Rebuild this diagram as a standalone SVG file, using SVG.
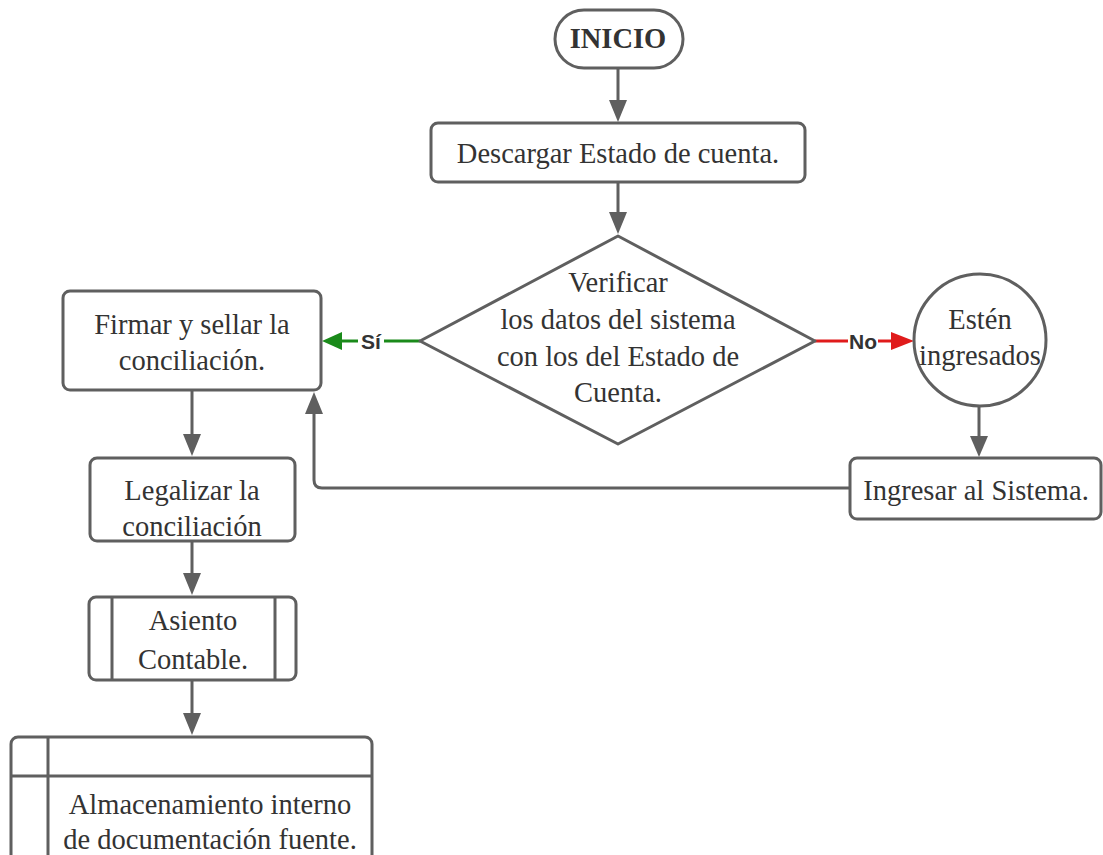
<svg xmlns="http://www.w3.org/2000/svg" width="1103" height="855" viewBox="0 0 1103 855">
  <style>
    .shape { fill: #ffffff; stroke: #5f5f5f; stroke-width: 3; }
    .line { fill: none; stroke: #5f5f5f; stroke-width: 3; }
    .txt { font-family: "Liberation Serif", "DejaVu Serif", serif; font-size: 28.5px; fill: #333333; text-anchor: middle; }
    .bold { font-weight: bold; }
    .lbl { font-family: "Liberation Sans", Arial, sans-serif; font-size: 21px; font-weight: bold; fill: #333333; text-anchor: middle; }
  </style>
  <rect width="1103" height="855" fill="#ffffff"/>

  <g id="connectors">
    <!-- INICIO to Descargar -->
    <line class="line" x1="618" y1="68" x2="618" y2="104"/>
    <path d="M609,100 L627,100 L618,122 z" fill="#5f5f5f"/>
    <!-- Descargar to decision -->
    <line class="line" x1="618" y1="182" x2="618" y2="216"/>
    <path d="M609,212 L627,212 L618,234 z" fill="#5f5f5f"/>
    <!-- Si branch -->
    <line x1="420" y1="341" x2="384" y2="341" stroke="#1a8a1a" stroke-width="3"/>
    <line x1="358" y1="341" x2="338" y2="341" stroke="#1a8a1a" stroke-width="3"/>
    <path d="M342,332 L342,350 L322,341 z" fill="#1a8a1a"/>
    <text class="lbl" x="371" y="349">Sí</text>
    <!-- No branch -->
    <line x1="815" y1="341" x2="848" y2="341" stroke="#e01b1b" stroke-width="3"/>
    <line x1="878" y1="341" x2="894" y2="341" stroke="#e01b1b" stroke-width="3"/>
    <path d="M891,332 L891,350 L914,341 z" fill="#e01b1b"/>
    <text class="lbl" x="863" y="349">No</text>
    <!-- circle to Ingresar -->
    <line class="line" x1="979" y1="406" x2="979" y2="440"/>
    <path d="M970,436 L988,436 L979,457 z" fill="#5f5f5f"/>
    <!-- Ingresar back to Firmar -->
    <path class="line" d="M850,488 L322,488 Q314,488 314,480 L314,412"/>
    <path d="M305,414 L323,414 L314,392 z" fill="#5f5f5f"/>
    <!-- Firmar to Legalizar -->
    <line class="line" x1="192" y1="390" x2="192" y2="438"/>
    <path d="M183,434 L201,434 L192,456 z" fill="#5f5f5f"/>
    <!-- Legalizar to Asiento -->
    <line class="line" x1="192" y1="541" x2="192" y2="577"/>
    <path d="M183,573 L201,573 L192,595 z" fill="#5f5f5f"/>
    <!-- Asiento to Almacenamiento -->
    <line class="line" x1="192" y1="680" x2="192" y2="717"/>
    <path d="M183,713 L201,713 L192,735 z" fill="#5f5f5f"/>
  </g>

  <g id="inicio">
    <rect class="shape" x="555" y="10" width="128" height="58" rx="29" ry="29"/>
    <text class="txt bold" x="618" y="48">INICIO</text>
  </g>

  <g id="descargar">
    <rect class="shape" x="431" y="123" width="374" height="59" rx="7" ry="7"/>
    <text class="txt" x="618" y="163">Descargar Estado de cuenta.</text>
  </g>

  <g id="verificar">
    <path class="shape" d="M618,236 L815,341 L618,444 L420,341 z" stroke-linejoin="round"/>
    <text class="txt" x="618" y="292">Verificar</text>
    <text class="txt" x="618" y="329">los datos del sistema</text>
    <text class="txt" x="618" y="366">con los del Estado de</text>
    <text class="txt" x="618" y="402">Cuenta.</text>
  </g>

  <g id="firmar">
    <rect class="shape" x="63" y="291" width="258" height="99" rx="7" ry="7"/>
    <text class="txt" x="192" y="334">Firmar y sellar la</text>
    <text class="txt" x="192" y="370">conciliación.</text>
  </g>

  <g id="esten">
    <circle class="shape" cx="980" cy="340" r="66"/>
    <text class="txt" x="980" y="329">Estén</text>
    <text class="txt" x="980" y="365">ingresados</text>
  </g>

  <g id="ingresar">
    <rect class="shape" x="850" y="458" width="251" height="61" rx="7" ry="7"/>
    <text class="txt" x="976" y="500">Ingresar al Sistema.</text>
  </g>

  <g id="legalizar">
    <rect class="shape" x="90" y="458" width="205" height="83" rx="7" ry="7"/>
    <text class="txt" x="192" y="500">Legalizar la</text>
    <text class="txt" x="192" y="536">conciliación</text>
  </g>

  <g id="asiento">
    <rect class="shape" x="89" y="597" width="207" height="83" rx="7" ry="7"/>
    <line class="line" x1="112" y1="597" x2="112" y2="680"/>
    <line class="line" x1="275" y1="597" x2="275" y2="680"/>
    <text class="txt" x="193" y="630">Asiento</text>
    <text class="txt" x="193" y="669">Contable.</text>
  </g>

  <g id="almacenamiento">
    <rect class="shape" x="11" y="737" width="361" height="140" rx="7" ry="7"/>
    <line class="line" x1="48" y1="737" x2="48" y2="855"/>
    <line class="line" x1="11" y1="776" x2="372" y2="776"/>
    <text class="txt" x="210" y="814">Almacenamiento interno</text>
    <text class="txt" x="210" y="849">de documentación fuente.</text>
  </g>
</svg>
